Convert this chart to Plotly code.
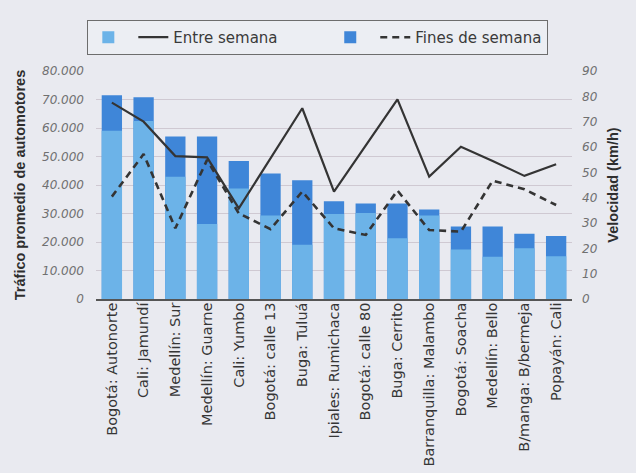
import plotly.graph_objects as go

categorias = ["Bogotá: Autonorte", "Cali: Jamundí", "Medellín: Sur", "Medellín: Guarne",
              "Cali: Yumbo", "Bogotá: calle 13", "Buga: Tuluá", "Ipiales: Rumichaca",
              "Bogotá: calle 80", "Buga: Cerrito", "Barranquilla: Malambo", "Bogotá: Soacha",
              "Medellín: Bello", "B/manga: B/bermeja", "Popayán: Cali"]

trafico_entre = [59000, 62500, 42900, 26300, 38800, 29300, 19000, 29800,
                 30200, 21300, 29300, 17400, 14800, 17800, 15000]
trafico_fines = [71500, 70800, 57000, 57000, 48400, 44000, 41700, 34300,
                 33500, 33500, 31400, 25400, 25400, 22900, 22100]

velocidad_entre = [77.5, 70.0, 56.4, 55.9, 35.8, 55.5, 75.3, 42.4,
                   60.6, 78.8, 48.3, 60.1, 54.5, 48.6, 53.2]
velocidad_fines = [40.4, 57.2, 27.9, 54.9, 33.8, 27.6, 42.4, 27.9,
                   25.3, 42.8, 27.2, 26.6, 46.7, 43.3, 37.1]

y_ticks = [0, 10000, 20000, 30000, 40000, 50000, 60000, 70000, 80000]
y2_ticks = [0, 10, 20, 30, 40, 50, 60, 70, 80, 90]

LIGHT = "#6cb3e8"
DARK = "#3f86d8"
LINE = "#343434"
BG = "#e9eaf0"
NB = "\u00a0"

fig = go.Figure()
fig.add_trace(go.Bar(x=categorias, y=trafico_fines, name="", marker_color=DARK,
                     marker_line_width=0, legendrank=3, yaxis="y", showlegend=True))
fig.add_trace(go.Bar(x=categorias, y=trafico_entre, name="", marker_color=LIGHT,
                     marker_line_width=0, legendrank=1, yaxis="y", showlegend=True))
fig.add_trace(go.Scatter(x=categorias, y=velocidad_entre, name="Entre semana" + NB * 10,
                         mode="lines", line=dict(color=LINE, width=2.2), legendrank=2, yaxis="y2"))
fig.add_trace(go.Scatter(x=categorias, y=velocidad_fines, name="Fines de semana", mode="lines",
                         line=dict(color=LINE, width=2.6, dash="7px,5px"), legendrank=4, yaxis="y2"))

fig.update_layout(
    width=636, height=473,
    margin=dict(l=96, r=64, t=71, b=174, autoexpand=False),
    paper_bgcolor=BG, plot_bgcolor=BG,
    barmode="overlay", bargap=0.36,
    separators=",.",
    showlegend=True,
    legend=dict(orientation="h", x=0.466, xanchor="center", y=1.224, yanchor="top",
                bordercolor="#6d6d6d", borderwidth=1, bgcolor="#eceef3",
                font=dict(family="DejaVu Sans", size=15, color="#3a3a3a"),
                traceorder="normal", itemwidth=30, tracegroupgap=0),
    xaxis=dict(tickangle=-90, showgrid=False, showline=True, linecolor="#555555", linewidth=1.5,
               tickfont=dict(family="DejaVu Sans", size=14.5, color="#363636"), ticks="",
               ticklabelstandoff=-4),
    yaxis=dict(range=[0, 80000], tickvals=y_ticks, tickformat=",d", showgrid=True,
               gridcolor="#cfc9d2", gridwidth=1, zeroline=False, showline=False,
               ticklabelstandoff=11,
               tickfont=dict(family="DejaVu Sans", size=12, color="#707070", style="italic"),
               title=dict(text="<b>Tráfico promedio de automotores</b>",
                          font=dict(family="Liberation Sans", size=14.5, color="#2e2e2e"),
                          standoff=12)),
    yaxis2=dict(range=[0, 90], tickvals=y2_ticks, overlaying="y", side="right", showgrid=False,
                zeroline=False, showline=False, ticklabelstandoff=9,
                tickfont=dict(family="DejaVu Sans", size=12, color="#707070", style="italic"),
                title=dict(text="<b>Velocidad (km/h)</b>",
                           font=dict(family="Liberation Sans", size=14.5, color="#2e2e2e"),
                           standoff=11)),
)

fig.write_html("out.html", config={"displayModeBar": False},
               post_script="document.body.style.margin='0px';document.body.style.background='%s';" % BG)
